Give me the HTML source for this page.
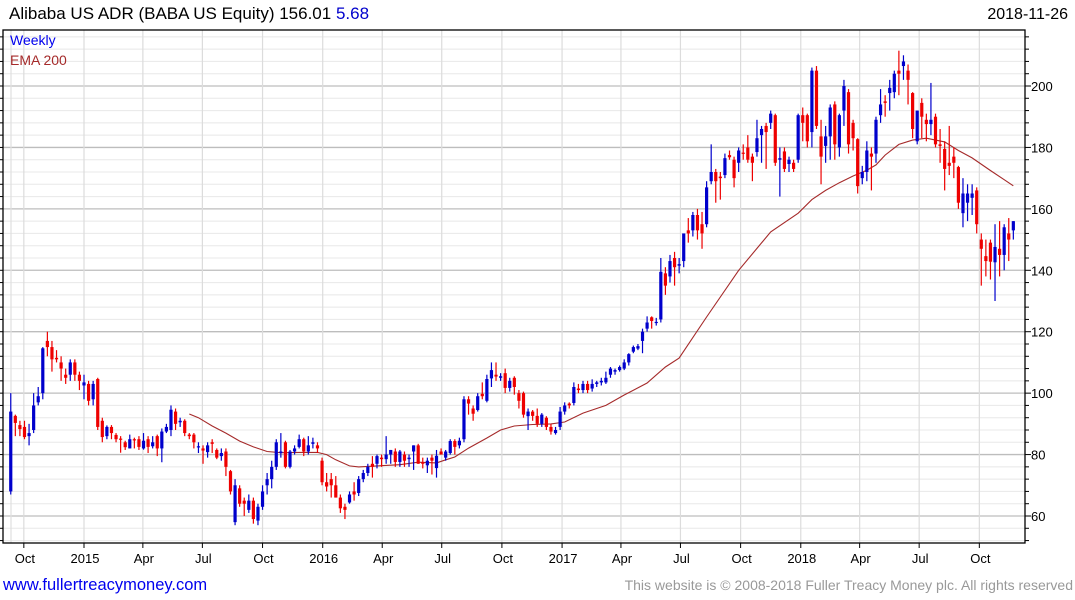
<!DOCTYPE html>
<html><head><meta charset="utf-8"><style>
body{margin:0;background:#fff;width:1075px;height:600px;overflow:hidden;font-family:"Liberation Sans",sans-serif}
svg{display:block}
</style></head><body>
<svg id="chart" width="1075" height="600" xmlns="http://www.w3.org/2000/svg">
<text x="9" y="19" font-size="17" fill="#000">Alibaba US ADR (BABA US Equity) 156.01 <tspan fill="#0000cc">5.68</tspan></text>
<text x="1068" y="19" font-size="16" fill="#000" text-anchor="end">2018-11-26</text>
<g id="grid"></g>
<g id="ema"></g>
<g id="candles"></g>
<g id="axes"></g>
<text x="10" y="45" font-size="14" fill="#0000ee">Weekly</text>
<text x="10" y="65" font-size="14" fill="#a52a2a">EMA 200</text>
<text x="3" y="590" font-size="16.5" fill="#0000ee">www.fullertreacymoney.com</text>
<text x="1073" y="590" font-size="14" fill="#999" text-anchor="end">This website is © 2008-2018 Fuller Treacy Money plc. All rights reserved</text>
</svg>
<script>
const opens=[68,92.6,89.6,89,86,88,97,100,117,115,111.5,110,106,106,110,106,102.5,103,98,104.6,91,86,89,86.4,85.2,84,82,85,85,82,85,82.7,86,82,87.5,88,94,90.5,91,86.5,86.5,82.5,82,80.8,84,81.5,79.5,81,74.6,58,69,65,62,65,58.5,63,70,72,76,80.5,84,76,81,82.5,85,81,83.5,83,78,71,72,70,66,63,64.4,68,67.5,72,74,77,77,79,78.5,80,81,77.6,80,78.5,81,83,77.5,76.5,79,75.6,81,79,80.5,84.4,83,85,98,95,94.5,99.8,97.5,104.8,106,105,106.5,101.7,105,100,100,92.5,94,92.6,90,92,89,87,89,94,96.6,96.8,101.5,101,103,101.5,103,103.5,103.5,106,107,107.5,108,110,113.5,114.5,117,121,124.7,123,124,139,138,144,141.5,143,153,153,158,155,155,169,172,170.5,171,177.5,176,175,178.3,180,177,178.5,184,187,188,190.5,176,178.7,174.6,175,176,190.5,190.5,185,205,183.6,180.5,183.6,194,180,192,198,188,182.7,170,172,178,178,190.5,195,197.7,198,205,206.5,205,197.7,182,194.5,189,187.6,190,181,179.5,175,177,173.6,158.6,162,163.6,166,150,144.6,149,142.6,147,145,152,153];
const highs=[100,93,91,91,90,100,102,115,120,117,114,112,108,111,111,107,106,104,104,105,92,89.5,89.6,87,86,84.5,86.5,85.5,86,87,86,86,86.5,88.5,90,96,95,92,91.5,87,87,84,83,84,85,82,82,82,75,72,70,66,67,66,64,70,74,78,85,87,84.5,81.5,83,86.5,85.5,86,85.5,84,79,74,74,73,67,64,68,71,73,75,77,79.5,80,80,86,81.5,82,81.5,81,80,83,83.5,79,79,80,81.5,82,81.5,85,85,85.5,99,99,96,100,103.5,106,110,110,106.5,108,105,105.5,101,100.5,95,94.5,95,93.5,92.5,90,89,95.5,97,97,103.5,103,104,104,104.5,104,105,107,108.5,108,109,111,113,115.5,116,121,125,125,124.5,144,141,145,146,144,149,157,159,160,159,169,181,173,172,178,179,177,180,181,184,178,189,187,188,192,191,180,180,177,176,191,193,191,206,206.5,189,187,194,195,191,202,199,189,183,174,182,180,190,199,197,202,205,211.5,210,207,198,192,196,191,201,191,186,182,187,180,174,170,168,168,167,152,150,150,155,156,155,157,156];
const lows=[67,86,86,85,83,87,96,98,112,107,110,104,103,104,104,101,98,96,96,88,84,85,85,84,80.6,81.5,82,82,81.5,81.6,80.5,82,79.5,77.5,87,86,88,89,86,85,82,80.5,77,79,80.5,78.5,78,73,67,57,63,60,61,57.5,57,62,67,69,75,79,75.5,75.5,80,82,79.5,80,82,80.5,70,68,66,66,61,59,64,65,66.5,71,73,72.5,75.5,76,77,77,76,76,76,76,75,77,75.5,74,73.5,72.5,80,78,80,80,82,84,93,91,94,98,97,102,104,104,100,100.5,99.5,95,92,88,91,89,89,88,86.5,86.5,88,93,95,96,100,100,100,100.5,102,102.5,103,105,106,107,107.5,109,113,114,113,120,121,122,123,132,136,135,139,141,149,151,150,147,154,168,162,163,170,176,167,172,176,175,169,177,175,173,186,174,164,172,172,172,175,182,180,180,186,168,175,176,176,177,187,178,179,165,168,169,166,175,188,190,192,196,197,202,194,183,181,183,182,184,180,175,166,171,170,160,154,156,158,152,135,138,137,130,138,140,143,150];
const closes=[94,90.3,88.3,85.7,87,96,99,114.6,115,111,111,108,105,110,106,104,103.5,97.5,103,89,85.7,89,87,85,85,82.4,85,84.6,82.5,84.5,82.5,84,82,87.5,89,94.6,90,91,87,86,84,82.7,81.3,83,83.5,79,80.5,76,68,70,64,64,65,59,63,68,72,76,84,81,76,81,82,85,81,83,84,82,71,69.6,70,66,62.5,62,67,67,72,74,76,76,79.5,78.5,80,81.5,77.6,81,78,79,83,77,77,78,78,79.6,80,81,84.4,82.5,84.5,98,96.6,93.3,99,99,104.6,107.5,105.4,105.5,101.7,104,102,97.5,93,94,92.6,90,93,89,87.5,88,94,96,96,102,101,103,101,103,103.5,104,105,108,107.5,108.5,110,112.7,115,115.3,120,123,123.5,123.2,139.5,135,143,141,142,152,152,158,153,152,167,172,169,170,176.5,176.8,170,179,178,176,175,183,186,185,191,175,176.5,173,176,173,190.5,188,182,205,187,177,183.6,193,181,190.5,200,181,183,167.4,172,179,177,189,194,194.5,199.4,204,204,208,202,186,192,190,187.6,189,181,180.5,173,174,175,162,165,165,165,155,147,143,142.8,147.6,145,154,150,156];
// EMA 200 samples: candle index and value
const emaWeeks=[39,41,44,47,50,53,56,59,63,67,69,71,74,76,80,85,89,93,95,97,100,104,107,110,114,118,121,125,130,134,139,143,146,152,159,166,172,175,178,181,184,187,189,191,194,197,200,204,207,210,214,217,219];
const emaValues=[93.2,92,89.3,87,84.4,82.5,81,80.6,80.7,80.7,80,78.3,76.3,76,76.3,76.7,77.5,77.3,78.3,79.2,82.1,85.4,88,89.3,89.8,90,90.6,93.5,96,99.4,103.3,108.5,111.4,124.8,140,152.5,158.6,163,166,168.5,170.7,172.6,174.3,177.5,181,182.4,183,181.8,179,176.6,172.5,169.5,167.5];
const yTicks=[60,80,100,120,140,160,180,200];
const xTickLabels=["Oct","2015","Apr","Jul","Oct","2016","Apr","Jul","Oct","2017","Apr","Jul","Oct","2018","Apr","Jul","Oct"];
const xTickDates=["2014-10-01","2015-01-01","2015-04-01","2015-07-01","2015-10-01","2016-01-01","2016-04-01","2016-07-01","2016-10-01","2017-01-01","2017-04-01","2017-07-01","2017-10-01","2018-01-01","2018-04-01","2018-07-01","2018-10-01"];

const NS="http://www.w3.org/2000/svg";
const L=3,R=1025,T=30,B=543;
const y=v=>86+(200-v)*3.0714;
const base=Date.UTC(2015,0,1);
const xDate=s=>{const d=new Date(s+"T00:00:00Z");return 84+((d-base)/864e5)*0.654;};
const xIdx=i=>84+(-112+7*i)*0.654;
function mk(tag,attrs,parent){const e=document.createElementNS(NS,tag);for(const k in attrs)e.setAttribute(k,attrs[k]);parent.appendChild(e);return e;}
const grid=document.getElementById('grid'),axes=document.getElementById('axes'),cg=document.getElementById('candles'),eg=document.getElementById('ema');
for(let v=48;v<=216;v+=4){const yy=y(v);if(yy<T||yy>B)continue;const major=v%20===0;
 const ln=mk('line',{x1:L,x2:R,y1:yy,y2:yy,stroke:major?'#bdbdbd':'#e8e8e8','stroke-width':major?1.3:1},grid);
 
 
 const tk=mk('line',{x1:R,x2:R+(major?6:4),y1:yy,y2:yy,stroke:'#000'},axes);
 
 
 const tl=mk('line',{x1:L-3,x2:L,y1:yy,y2:yy,stroke:'#000'},axes);
 
 
}
yTicks.forEach(v=>{const t=mk('text',{x:1031,y:y(v)+5,'font-size':13,fill:'#000'},axes);t.textContent=v;
 
 });
const g0=mk('line',{x1:11,x2:11,y1:T,y2:B,stroke:'#e0e0e0','stroke-width':1.2},grid);


xTickDates.forEach((d,k)=>{const xx=xDate(d);
 const gl=mk('line',{x1:xx,x2:xx,y1:T,y2:B,stroke:'#dcdcdc','stroke-width':1.2},grid);
 
 
 const tk=mk('line',{x1:xx,x2:xx,y1:B,y2:B+5,stroke:'#000'},axes);
 
 
 const t=mk('text',{x:xx+1,y:563,'font-size':13,fill:'#000','text-anchor':'middle'},axes);t.textContent=xTickLabels[k];
 
 });
const fr=mk('rect',{x:L,y:T,width:R-L,height:B-T,fill:'none',stroke:'#000','stroke-width':1.3},axes);


const pts=emaWeeks.map((w,k)=>xIdx(w).toFixed(1)+','+y(emaValues[k]).toFixed(1)).join(' ');
const pl=mk('polyline',{points:pts,fill:'none',stroke:'#a52a2a','stroke-width':1.1},eg);


closes.forEach((c,i)=>{const o=opens[i],xx=xIdx(i);const up=c>=o;const col=up?'#0000cc':'#ee0000';
 const g=mk('g',{},cg);
 
 
 mk('line',{x1:xx,x2:xx,y1:y(highs[i]),y2:y(lows[i]),stroke:col,'stroke-width':1.2},g);
 const top=y(Math.max(o,c)),h=Math.max(1.2,Math.abs(y(o)-y(c)));
 mk('rect',{x:xx-1.6,y:top,width:3.2,height:h,fill:col},g);
});
</script>
</body></html>
